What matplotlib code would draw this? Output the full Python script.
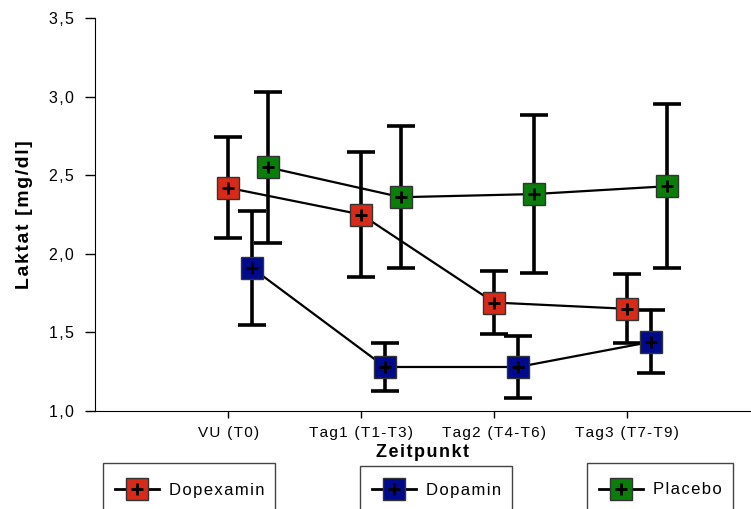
import matplotlib.pyplot as plt
from matplotlib.lines import Line2D
from matplotlib.patches import Rectangle

plt.rcParams['font.family'] = ['Liberation Sans', 'DejaVu Sans']

zeitpunkte = ['VU (T0)', 'Tag1 (T1-T3)', 'Tag2 (T4-T6)', 'Tag3 (T7-T9)']

dopexamin = [2.42, 2.25, 1.69, 1.65]
dopexamin_err = [0.32, 0.40, 0.20, 0.22]
dopamin = [1.91, 1.28, 1.28, 1.44]
dopamin_err = [0.36, 0.15, 0.20, 0.20]
placebo = [2.55, 2.36, 2.38, 2.43]
placebo_err = [0.48, 0.45, 0.50, 0.52]

serien = [
    ('Dopexamin', dopexamin, dopexamin_err, '#d82a18', 0.0),
    ('Dopamin', dopamin, dopamin_err, '#000a8c', 0.18),
    ('Placebo', placebo, placebo_err, '#0a7d0a', 0.30),
]


def sperren(s):
    # breite Laufweite wie im Original
    return '\u200a'.join(s)


fig = plt.figure(figsize=(7.51, 5.09), dpi=100)
ax = fig.add_axes([95 / 751, 98 / 509, 656 / 751, 393 / 509])

x0 = list(range(1, len(zeitpunkte) + 1))
handles = []
for name, werte, fehler, farbe, versatz in serien:
    xs = [x + versatz for x in x0]
    ax.plot(xs, werte, color='black', lw=1.6, zorder=2)
    ax.errorbar(xs, werte, yerr=fehler, fmt='none', ecolor='black',
                elinewidth=2.6, capsize=10, capthick=2.6, zorder=3)
    ax.plot(xs, werte, ls='none', marker='s', ms=16, mfc=farbe,
            mec='#333333', mew=1, zorder=4)
    ax.plot(xs, werte, ls='none', marker='+', ms=9, mec='black',
            mew=2, zorder=5)
    h1 = Line2D([], [], color='black', lw=2, marker='s', ms=16, mfc=farbe,
                mec='#333333', mew=1)
    h2 = Line2D([], [], ls='none', marker='+', ms=9, mec='black', mew=2)
    handles.append((name, (h1, h2)))

ax.set_xlim(0, 4.93)
ax.set_ylim(1.0, 3.5)
ax.set_xticks(x0)
ax.set_xticklabels([sperren(t) for t in zeitpunkte], fontsize=11)
ax.set_yticks([1.0, 1.5, 2.0, 2.5, 3.0, 3.5])
ax.set_yticklabels([sperren(t) for t in ['1,0', '1,5', '2,0', '2,5', '3,0', '3,5']],
                   fontsize=11.5)
ax.tick_params(axis='y', direction='out', length=7, width=1, pad=8)
ax.tick_params(axis='x', direction='out', length=5, width=1, pad=6)
ax.spines['top'].set_visible(False)
ax.spines['right'].set_visible(False)
ax.set_xlabel(sperren('Zeitpunkt'), fontsize=13, fontweight='bold', labelpad=3)
ax.set_ylabel(sperren('Laktat [mg/dl]'), fontsize=14, fontweight='bold', labelpad=12)

# Legendenkästen unten
kaesten = [(103, 463, 172), (360, 466, 152), (587, 463, 146)]
for (name, h), (kx, ky, kb) in zip(handles, kaesten):
    fig.patches.append(Rectangle((kx / 751, -0.05), kb / 751, (509 - ky) / 509 + 0.05,
                                 transform=fig.transFigure, fill=False,
                                 ec='#444444', lw=1))
    fig.legend([h], [sperren(name)], loc='center left',
               bbox_to_anchor=((kx + 4) / 751, (509 - 490) / 509),
               frameon=False, fontsize=12, handlelength=2.6,
               handletextpad=0.6, borderpad=0)

fig.savefig('out.png', dpi=100)
